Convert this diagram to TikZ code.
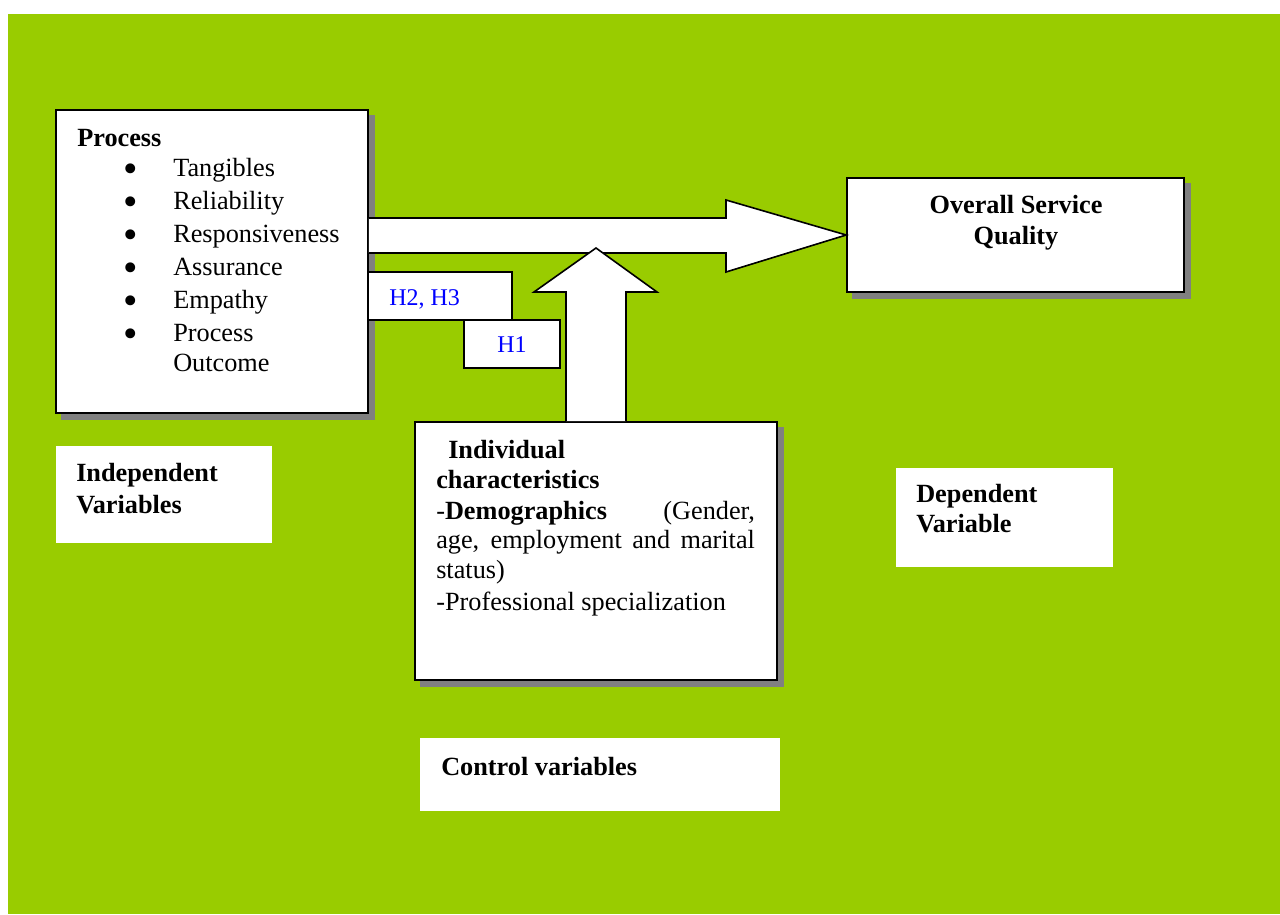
\documentclass[tikz,border=0pt]{standalone}
\usepackage{fontspec}
\setmainfont{Liberation Serif}
\usetikzlibrary{fit,calc,backgrounds}
\definecolor{bggreen}{HTML}{99CC00}
\definecolor{shadowgray}{HTML}{808080}
\definecolor{hblue}{HTML}{0000FF}
\begin{document}
\begin{tikzpicture}[x=0.75pt,y=-0.75pt,
  box/.style={draw=black, line width=1.2pt, fill=white, inner sep=0pt},
  plainbox/.style={fill=white, inner sep=0pt},
  txt/.style={anchor=base west, inner sep=0pt, font=\fontsize{19.7}{22}\selectfont},
  btxt/.style={anchor=base west, inner sep=0pt, font=\fontsize{19.7}{22}\selectfont\bfseries},
  htxt/.style={anchor=base west, inner sep=0pt, text=hblue, font=\fontsize{18}{20}\selectfont},
  bultxt/.style={anchor=base, inner sep=0pt, font=\fontsize{31}{31}\selectfont},
  blockarrow/.style={draw=black, line width=1.2pt, fill=white, line join=miter}]
\useasboundingbox (0,0) rectangle (1280,914);

% boxes
\node[box, fit={(56,110) (368,413)}] (proc) {};
\node[box, fit={(847,178) (1184,292)}] (osq) {};
\node[box, fit={(415,422) (777,680)}] (indiv) {};
\node[plainbox, fit={(56,446) (272,543)}] (indep) {};
\node[plainbox, fit={(896,468) (1113,567)}] (dep) {};
\node[plainbox, fit={(420,738) (780,811)}] (ctrl) {};
\node[box, fit={(368,272) (512,320)}] (h23) {};
\node[box, fit={(464,320) (560,368)}] (h1) {};

% background and shadows
\begin{scope}[on background layer]
  \fill[bggreen] (8,14) rectangle (1280,914);
  \fill[shadowgray] ($(proc.south west)+(6,6)$) rectangle ($(proc.north east)+(6,6)$);
  \fill[shadowgray] ($(osq.south west)+(6,6)$) rectangle ($(osq.north east)+(6,6)$);
  \fill[shadowgray] ($(indiv.south west)+(6,6)$) rectangle ($(indiv.north east)+(6,6)$);
\end{scope}

% block arrows
\filldraw[blockarrow] (proc.east |- 0,218) -- (726,218) -- (726,200) -- (osq.west)
  -- (726,272) -- (726,253) -- (proc.east |- 0,253);
\filldraw[blockarrow] ($(indiv.north)+(-30,0)$) -- (566,292) -- (534,292) -- (596,248)
  -- (657,292) -- (626,292) -- ($(indiv.north)+(30,0)$);

% process text
\node[btxt] (tproc) at (77,146) {Process};
\foreach \yy/\lab/\nm in {176/Tangibles/a,209/Reliability/b,242/Responsiveness/c,275/Assurance/d,308/Empathy/e,341/Process/f}{
  \node[bultxt] (bul\nm) at (131,\yy) {\raisebox{-4.5pt}{\textbullet}};
  \node[txt] (item\nm) at (173,\yy) {\lab};
}
\node[txt] (itemg) at (173,371) {Outcome};

% overall service quality
\node[btxt, anchor=base] (tosq1) at (1016,213) {Overall Service};
\node[btxt, anchor=base] (tosq2) at (1016,244) {Quality};

% hypotheses
\node[htxt] (th23) at (389,305) {H2, H3};
\node[htxt, anchor=base] (th1) at (512,352) {H1};

% labels
\node[btxt] (tind1) at (76,481) {Independent};
\node[btxt] (tind2) at (76,513) {Variables};
\node[btxt] (tdep1) at (916,502) {Dependent};
\node[btxt] (tdep2) at (916,532) {Variable};
\node[btxt] (tctrl) at (441,775) {Control variables};

% individual characteristics
\node[btxt] (tiv1) at (448,458) {Individual};
\node[btxt] (tiv2) at (436,488) {characteristics};
\node[txt] (tiv3) at (436,519) {\makebox[239pt][l]{-\textbf{Demographics}\hfill(Gender,}};
\node[txt] (tiv4) at (436,548) {\makebox[239pt][s]{age, employment and marital}};
\node[txt] (tiv5) at (436,578) {status)};
\node[txt] (tiv6) at (436,610) {-Professional specialization};
\end{tikzpicture}
\end{document}
